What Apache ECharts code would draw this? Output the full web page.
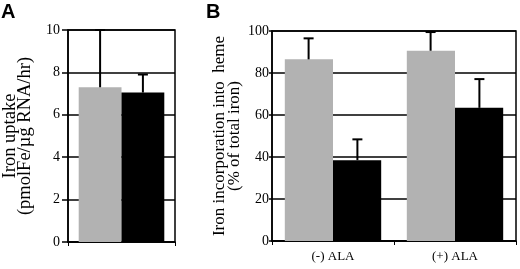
<!DOCTYPE html>
<html><head><meta charset="utf-8">
<script src="https://cdn.jsdelivr.net/npm/echarts@6/dist/echarts.min.js"></script>
<style>html,body{margin:0;padding:0;background:#fff}#c{width:520px;height:269px}</style>
</head><body><div id="c"></div>
<script>
// Panel A data
const catsA = [''];
const grayA = [7.3];
const grayAErr = [10.0];
const blackA = [7.05];
const blackAErr = [7.9];
const ticksA = [0, 2, 4, 6, 8, 10];
// Panel B data
const catsB = ['(-) ALA', '(+) ALA'];
const grayB = [86.5, 90.6];
const grayBErr = [96.5, 99.5];
const blackB = [38.5, 63.4];
const blackBErr = [48.4, 77.1];
const ticksB = [0, 20, 40, 60, 80, 100];

const FONT = '"Liberation Serif", "Times New Roman", serif';
const GRAY = '#b2b2b2';

function errSeries(xIdx, tops, vals, side) {
  return {
    type: 'custom', xAxisIndex: xIdx, yAxisIndex: xIdx, z: 5,
    data: tops.map((t, i) => [i, vals[i], t]),
    renderItem: function (params, api) {
      const i = api.value(0);
      const base = api.coord([i, api.value(1)]);
      const top = api.coord([i, api.value(2)]);
      const w = api.size([1, 0])[0];
      const x = base[0] + side * 0.2 * w;
      const cap = 5;
      const st = { stroke: '#000', lineWidth: 2 };
      return { type: 'group', children: [
        { type: 'line', shape: { x1: x, y1: base[1], x2: x, y2: top[1] }, style: st },
        { type: 'line', shape: { x1: x - cap, y1: top[1], x2: x + cap, y2: top[1] }, style: st }
      ] };
    }
  };
}

function yAx(idx, ticks, name, gap, nameSize, tickLen, margin) {
  return {
    type: 'value', gridIndex: idx, min: ticks[0], max: ticks[ticks.length - 1],
    interval: ticks[1] - ticks[0],
    name: name, nameLocation: 'middle', nameGap: gap,
    nameTextStyle: { fontFamily: FONT, fontSize: nameSize, color: '#000', lineHeight: 15 },
    axisLine: { show: true, lineStyle: { color: '#000', width: 1.5 } },
    axisTick: { show: true, length: tickLen, lineStyle: { color: '#000', width: 1.5 } },
    axisLabel: { fontFamily: FONT, fontSize: 14, color: '#000', margin: margin },
    splitLine: { show: true, lineStyle: { color: '#000', width: 1.5 } }
  };
}
function xAx(idx, cats) {
  return {
    type: 'category', gridIndex: idx, data: cats,
    axisLine: { show: true, lineStyle: { color: '#000', width: 1.5 } },
    axisTick: { show: true, length: 4, lineStyle: { color: '#000', width: 1 } },
    axisLabel: { fontFamily: FONT, fontSize: 13, color: '#000', margin: 9 }
  };
}

const chart = echarts.init(document.getElementById('c'), null, { renderer: 'canvas' });
chart.setOption({
  animation: false,
  backgroundColor: '#fff',
  grid: [
    { left: 65, right: 345, top: 30, bottom: 27, show: true, borderColor: '#000', borderWidth: 1.5 },
    { left: 272, right: 4, top: 31, bottom: 28, show: true, borderColor: '#000', borderWidth: 1.5 }
  ],
  xAxis: [xAx(0, catsA), xAx(1, catsB)],
  yAxis: [
    yAx(0, ticksA, 'Iron uptake\n(pmolFe/µg RNA/hr)', 35, 18.5, 6, 8),
    yAx(1, ticksB, 'Iron incorporation into  heme\n(% of total iron)', 30, 17, 3, 3)
  ],
  graphic: [
    { type: 'text', left: 1, top: 2, style: { text: 'A', font: 'bold 20px "Liberation Sans", Arial, sans-serif', fill: '#000' } },
    { type: 'text', left: 206, top: 2, style: { text: 'B', font: 'bold 20px "Liberation Sans", Arial, sans-serif', fill: '#000' } }
  ],
  series: [
    { type: 'bar', xAxisIndex: 0, yAxisIndex: 0, data: grayA, itemStyle: { color: GRAY }, barGap: '0%', barCategoryGap: '20%' },
    { type: 'bar', xAxisIndex: 0, yAxisIndex: 0, data: blackA, itemStyle: { color: '#000' }, barGap: '0%', barCategoryGap: '20%' },
    errSeries(0, grayAErr, grayA, -1),
    errSeries(0, blackAErr, blackA, 1),
    { type: 'bar', xAxisIndex: 1, yAxisIndex: 1, data: grayB, itemStyle: { color: GRAY }, barGap: '0%', barCategoryGap: '21%' },
    { type: 'bar', xAxisIndex: 1, yAxisIndex: 1, data: blackB, itemStyle: { color: '#000' }, barGap: '0%', barCategoryGap: '21%' },
    errSeries(1, grayBErr, grayB, -1),
    errSeries(1, blackBErr, blackB, 1)
  ]
});
</script></body></html>
